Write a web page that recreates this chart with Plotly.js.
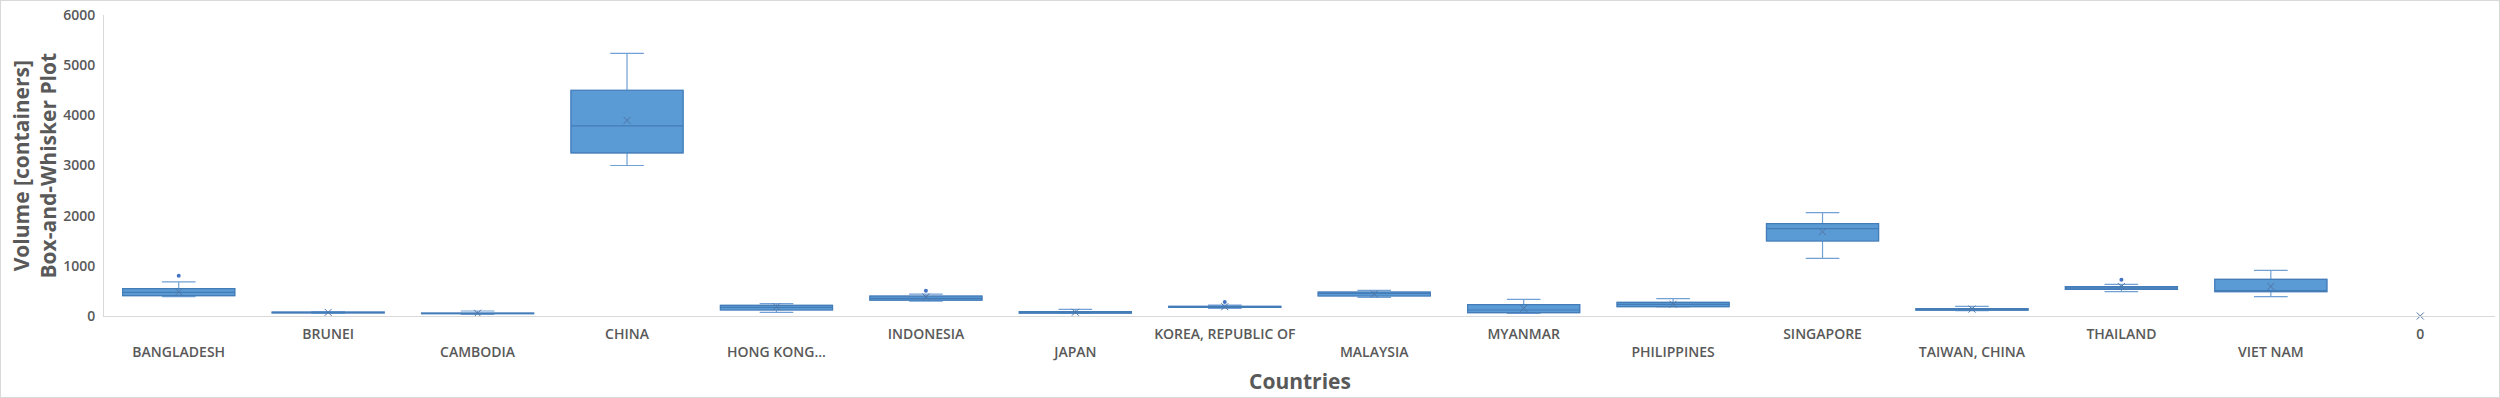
<!DOCTYPE html>
<html>
<head>
<meta charset="utf-8">
<script src="https://cdn.plot.ly/plotly-3.0.1.min.js"></script>
<style>
html,body{margin:0;padding:0;background:#fff;}
#chart{width:2500px;height:398px;outline:1px solid #d9d9d9;outline-offset:-1px;}
</style>
</head>
<body>
<div id="chart"></div>
<script>
var categories = ["BANGLADESH","BRUNEI","CAMBODIA","CHINA","HONG KONG...","INDONESIA","JAPAN","KOREA, REPUBLIC OF","MALAYSIA","MYANMAR","PHILIPPINES","SINGAPORE","TAIWAN, CHINA","THAILAND","VIET NAM","0"];
var boxCategories = ["BANGLADESH","BRUNEI","CAMBODIA","CHINA","HONG KONG...","INDONESIA","JAPAN","KOREA, REPUBLIC OF","MALAYSIA","MYANMAR","PHILIPPINES","SINGAPORE","TAIWAN, CHINA","THAILAND","VIET NAM"];
var lowerWhisker = [385, 50, 30, 3000, 73, 295, 50, 150, 372, 53, 179, 1150, 105, 485, 385];
var q1Values     = [405, 62, 45, 3250, 120, 315, 58, 170, 399, 66, 186, 1495, 115, 532, 485];
var medianValues = [470, 70, 50, 3790, 170, 350, 72, 180, 450, 120, 232, 1740, 135, 558, 505];
var q3Values     = [545, 80, 58, 4500, 210, 395, 90, 190, 478, 226, 272, 1840, 150, 584, 731];
var upperWhisker = [680, 90, 100, 5235, 248, 435, 133, 215, 512, 332, 346, 2060, 193, 631, 910];
var meanValues   = [480, 72, 55, 3900, 185, 380, 75, 185, 440, 153, 235, 1680, 138, 586, 590, 0];
var outlierCategories = ["BANGLADESH","INDONESIA","KOREA, REPUBLIC OF","THAILAND"];
var outlierValues = [800, 505, 280, 724];
var yTickValues = [0, 1000, 2000, 3000, 4000, 5000, 6000];
var xTitle = "Countries";
var yTitle = "Volume [containers]<br>Box-and-Whisker Plot";

var tickText = categories.map(function(c, i){ return (i % 2 === 0 ? "<br>" : "") + c; });

// whiskers (lighter lines)
var whiskerTrace = {
  type: "box",
  x: boxCategories,
  q1: q1Values, median: medianValues, q3: q3Values,
  lowerfence: lowerWhisker, upperfence: upperWhisker,
  width: 0.75, whiskerwidth: 0.3,
  fillcolor: "rgb(91,155,213)",
  line: {color: "rgb(112,160,212)", width: 1.2},
  boxpoints: false, hoverinfo: "skip", showlegend: false
};
// box body with darker outline and median
var bodyTrace = {
  type: "box",
  x: boxCategories,
  q1: q1Values, median: medianValues, q3: q3Values,
  lowerfence: q1Values, upperfence: q3Values,
  width: 0.75, whiskerwidth: 0,
  fillcolor: "rgb(91,155,213)",
  line: {color: "rgb(68,124,184)", width: 1.2},
  boxpoints: false, hoverinfo: "skip", showlegend: false
};
var meanTrace = {
  type: "scatter", mode: "markers",
  x: categories, y: meanValues,
  marker: {symbol: "x-thin-open", size: 7, color: "rgb(80,118,165)", line: {width: 1, color: "rgb(80,118,165)"}},
  hoverinfo: "skip", showlegend: false, cliponaxis: false
};
var outlierTrace = {
  type: "scatter", mode: "markers",
  x: outlierCategories, y: outlierValues,
  marker: {symbol: "circle", size: 4, color: "rgb(68,114,196)"},
  hoverinfo: "skip", showlegend: false
};

var axisFont = {family: "Open Sans, sans-serif", size: 14, color: "#595959", weight: 600};
var titleFont = {family: "Open Sans, sans-serif", size: 21, color: "#595959", weight: 700};
var plotW = 2391;
var layout = {
  width: 2500, height: 398,
  margin: {l: 104, r: 5, t: 15, b: 82},
  paper_bgcolor: "rgba(0,0,0,0)",
  plot_bgcolor: "#fff",
  showlegend: false,
  boxmode: "overlay",
  xaxis: {
    type: "category", automargin: false,
    categoryorder: "array", categoryarray: categories,
    range: [-0.5, 15.5],
    tickvals: categories, ticktext: tickText,
    tickangle: 0,
    ticks: "",
    showgrid: false, zeroline: false,
    showline: true, linecolor: "#d9d9d9", linewidth: 1,
    tickfont: axisFont,
    ticklabelstandoff: 5
  },
  yaxis: {
    range: [0, 6000], automargin: false,
    tickvals: yTickValues,
    ticks: "",
    showgrid: false, zeroline: false,
    showline: true, linecolor: "#d9d9d9", linewidth: 1,
    tickfont: axisFont,
    ticklabelstandoff: 5
  },
  annotations: [
    {xref: "paper", yref: "paper", x: 0.5, y: -0.215, xanchor: "center", yanchor: "middle",
     text: xTitle, showarrow: false, font: titleFont},
    {xref: "paper", yref: "paper", x: -70/plotW, y: 0.5, xanchor: "center", yanchor: "middle",
     text: yTitle, textangle: -90, showarrow: false, font: titleFont}
  ]
};
Plotly.newPlot("chart", [whiskerTrace, bodyTrace, meanTrace, outlierTrace], layout, {displayModeBar: false, staticPlot: true});
</script>
</body>
</html>
